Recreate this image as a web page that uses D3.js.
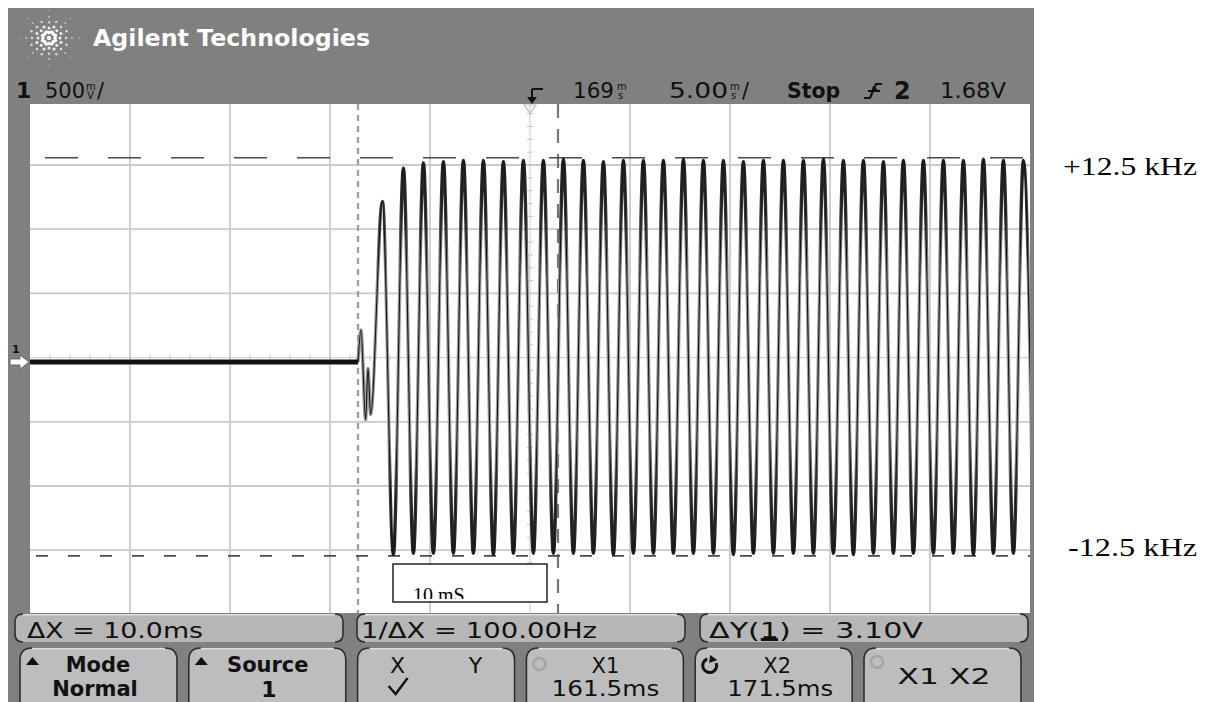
<!DOCTYPE html>
<html><head><meta charset="utf-8">
<script src="https://cdn.jsdelivr.net/npm/d3@7"></script>
<style>html,body{margin:0;padding:0;background:#fff;} svg{display:block;}</style>
</head><body>
<svg id="c" width="1212" height="702"></svg>
<script>
// ================= DATA =================
const timeDomainMs = [145.1, 195.1];      // visible time window (ms)
const voltDomain = [-1.966, 2.034];       // visible voltage window (V), 500 mV/div
const flatT = [145.1, 161.5];
const flatV = [0, 0];
const transientT = [161.5, 161.65, 161.88, 162.0, 162.13, 162.72];
const transientV = [0, 0.25, -0.45, -0.05, -0.41, 1.25];
const peakT = [163.77, 164.77, 165.77, 166.77, 167.77, 168.77, 169.77, 170.77, 171.77, 172.77,
               173.77, 174.77, 175.77, 176.77, 177.77, 178.77, 179.77, 180.77, 181.77, 182.77,
               183.77, 184.77, 185.77, 186.77, 187.77, 188.77, 189.77, 190.77, 191.77, 192.77,
               193.77, 194.77];
const peakV = [1.51, 1.55, 1.56, 1.57, 1.57, 1.56, 1.57, 1.57, 1.58, 1.57,
               1.56, 1.57, 1.57, 1.57, 1.58, 1.57, 1.57, 1.56, 1.57, 1.57,
               1.57, 1.58, 1.57, 1.57, 1.56, 1.57, 1.57, 1.57, 1.57, 1.58,
               1.57, 1.57];
const troughT = [163.27, 164.27, 165.27, 166.27, 167.27, 168.27, 169.27, 170.27, 171.27, 172.27,
                 173.27, 174.27, 175.27, 176.27, 177.27, 178.27, 179.27, 180.27, 181.27, 182.27,
                 183.27, 184.27, 185.27, 186.27, 187.27, 188.27, 189.27, 190.27, 191.27, 192.27,
                 193.27, 194.27, 195.27];
const troughV = [-1.50, -1.49, -1.49, -1.49, -1.49, -1.50, -1.49, -1.49, -1.49, -1.49,
                 -1.49, -1.50, -1.49, -1.49, -1.49, -1.49, -1.49, -1.50, -1.49, -1.49,
                 -1.49, -1.49, -1.49, -1.50, -1.49, -1.49, -1.49, -1.49, -1.49, -1.50,
                 -1.49, -1.49, -1.49];
const cursorXms = [161.5, 171.5];
const cursorYv = [-1.51, 1.59];
const rightLabels = ["+12.5 kHz", "-12.5 kHz"];
const rightLabelV = [1.55, -1.42];
const softkeyLabels = ["\u0394X = 10.0ms", "1/\u0394X = 100.00Hz", "\u0394Y(1) = 3.10V"];
const buttonTop = ["Mode", "Source", "X", "X1", "X2", "X1  X2"];
const buttonBottom = ["Normal", "1", "\u2713", "161.5ms", "171.5ms", ""];

// ================= SETUP =================
const svg = d3.select("#c");
svg.append("rect").attr("width", 1212).attr("height", 702).attr("fill", "#fff");
const defs = svg.append("defs");

const G = {x0: 30, x1: 1030, y0: 100.8, y1: 614.4, wy0: 104, wy1: 613};
const xT = d3.scaleLinear().domain(timeDomainMs).range([G.x0, G.x1]);
const yV = d3.scaleLinear().domain(voltDomain).range([G.y1, G.y0]);
const xDiv = d3.scaleLinear().domain([0, 10]).range([G.x0, G.x1]);
const yDiv = d3.scaleLinear().domain([0, 8]).range([G.y0, G.y1]);

// frame
svg.append("rect").attr("x", 8).attr("y", 8).attr("width", 1026).attr("height", 694).attr("fill", "#808080");

// logo (starburst of dots)
const logo = svg.append("g").attr("transform", "translate(49,38)");
d3.range(16).forEach(i => {
  const a = i * Math.PI / 8;
  const long = i % 2 === 0;
  const rs = long ? [6, 11, 17, 23, 30] : [7, 13, 19];
  rs.forEach((r, j) => {
    logo.append("circle").attr("cx", r * Math.cos(a)).attr("cy", r * Math.sin(a) * 0.92)
      .attr("r", Math.max(0.7, 1.8 - j * 0.3)).attr("fill", "#fff").attr("opacity", 1 - j * 0.13);
  });
});
logo.append("circle").attr("r", 2.2).attr("fill", "#fff");

svg.append("text").attr("x", 93).attr("y", 46).text("Agilent Technologies")
  .attr("font-family", "DejaVu Sans").attr("font-weight", "bold").attr("font-size", 23)
  .attr("fill", "#fff").attr("textLength", 277).attr("lengthAdjust", "spacingAndGlyphs");

// header row
const hdr = svg.append("g").attr("font-family", "DejaVu Sans").attr("fill", "#111");
function txt(g, x, y, s, size, opts = {}) {
  const t = g.append("text").attr("x", x).attr("y", y).text(s).attr("font-size", size);
  if (opts.bold) t.attr("font-weight", "bold");
  if (opts.len) t.attr("textLength", opts.len).attr("lengthAdjust", "spacingAndGlyphs");
  if (opts.anchor) t.attr("text-anchor", opts.anchor);
  if (opts.fill) t.attr("fill", opts.fill);
  if (opts.family) t.attr("font-family", opts.family);
  return t;
}
function stacked(g, x, yb, top, bot) {
  txt(g, x, yb - 8, top, 10);
  txt(g, x + 1, yb + 1, bot, 10);
}
txt(hdr, 16, 98, "1", 22, {bold: true});
txt(hdr, 45, 98, "500", 21, {len: 40});
stacked(hdr, 86, 98, "m", "V");
txt(hdr, 97, 98, "/", 21);
txt(hdr, 573, 98, "169", 21, {len: 41});
stacked(hdr, 617, 98, "m", "s");
txt(hdr, 669, 98, "5.00", 21, {len: 59});
stacked(hdr, 730, 98, "m", "s");
txt(hdr, 742, 98, "/", 21);
txt(hdr, 787, 98, "Stop", 21, {bold: true, len: 53});
// trigger edge symbol
hdr.append("path").attr("d", "M864,98 H870 L876,84 H882 M868,91 H880")
  .attr("fill", "none").attr("stroke", "#111").attr("stroke-width", 2.2);
hdr.append("path").attr("d", "M873,86 L878,90 L871,92 Z").attr("fill", "#111");
txt(hdr, 894, 99, "2", 24, {bold: true});
txt(hdr, 940, 98, "1.68V", 21, {len: 66});
// trigger position marker
hdr.append("path").attr("d", "M532,89 H543 M532,89 V99").attr("stroke", "#111").attr("stroke-width", 2).attr("fill", "none");
hdr.append("path").attr("d", "M527,97 L537,97 L532,104 Z").attr("fill", "#111");

// graticule background
svg.append("rect").attr("x", G.x0).attr("y", G.wy0).attr("width", G.x1 - G.x0).attr("height", G.wy1 - G.wy0).attr("fill", "#fff");
defs.append("clipPath").attr("id", "gclip").append("rect")
  .attr("x", G.x0).attr("y", G.wy0).attr("width", G.x1 - G.x0).attr("height", G.wy1 - G.wy0);
const plot = svg.append("g").attr("clip-path", "url(#gclip)");

// grid
plot.selectAll(".vg").data(d3.range(1, 10)).join("line")
  .attr("x1", d => xDiv(d)).attr("x2", d => xDiv(d)).attr("y1", G.wy0).attr("y2", G.wy1)
  .attr("stroke", "#cacaca").attr("stroke-width", d => d === 5 ? 1 : 1.8);
plot.selectAll(".hg").data(d3.range(1, 8)).join("line")
  .attr("y1", d => yDiv(d)).attr("y2", d => yDiv(d)).attr("x1", G.x0).attr("x2", G.x1)
  .attr("stroke", "#cacaca").attr("stroke-width", d => d === 4 ? 1 : 1.8);
// center axes minor ticks
plot.selectAll(".ht").data(d3.range(1, 50)).join("line")
  .attr("x1", d => xDiv(d / 5)).attr("x2", d => xDiv(d / 5))
  .attr("y1", yDiv(4) - 3).attr("y2", yDiv(4) + 3).attr("stroke", "#c4c4c4").attr("stroke-width", 1);
plot.selectAll(".vt").data(d3.range(1, 40)).join("line")
  .attr("y1", d => yDiv(d / 5)).attr("y2", d => yDiv(d / 5))
  .attr("x1", xDiv(5) - 3).attr("x2", xDiv(5) + 3).attr("stroke", "#c4c4c4").attr("stroke-width", 1);
// small trigger-point triangle
plot.append("path").attr("d", `M${xDiv(5) - 6},${G.wy0 + 1} L${xDiv(5) + 6},${G.wy0 + 1} L${xDiv(5)},${G.wy0 + 9} Z`)
  .attr("fill", "none").attr("stroke", "#bdbdbd").attr("stroke-width", 1.2);

// cursors
plot.append("line").attr("x1", xT(cursorXms[0])).attr("x2", xT(cursorXms[0])).attr("y1", G.wy0).attr("y2", G.wy1)
  .attr("stroke", "#9a9a9a").attr("stroke-width", 2.2).attr("stroke-dasharray", "6,5");
plot.append("line").attr("x1", xT(cursorXms[1])).attr("x2", xT(cursorXms[1])).attr("y1", G.wy0).attr("y2", G.wy1)
  .attr("stroke", "#777").attr("stroke-width", 2.2).attr("stroke-dasharray", "14,11");
plot.append("line").attr("y1", yV(cursorYv[1])).attr("y2", yV(cursorYv[1])).attr("x1", G.x0).attr("x2", G.x1)
  .attr("stroke", "#4a4a4a").attr("stroke-width", 1.6).attr("stroke-dasharray", "33,30").attr("stroke-dashoffset", -15);
plot.append("line").attr("y1", yV(cursorYv[0])).attr("y2", yV(cursorYv[0])).attr("x1", G.x0).attr("x2", G.x1)
  .attr("stroke", "#4a4a4a").attr("stroke-width", 1.6).attr("stroke-dasharray", "12,20").attr("stroke-dashoffset", -6);

// waveform
const flat = flatT.map((t, i) => [t, flatV[i]]);
const wave = transientT.map((t, i) => [t, transientV[i]])
  .concat(peakT.map((t, i) => [t, peakV[i]]))
  .concat(troughT.map((t, i) => [t, troughV[i]]))
  .sort((a, b) => a[0] - b[0]);
const line = d3.line().x(d => xT(d[0])).y(d => yV(d[1])).curve(d3.curveMonotoneX);
const grad = defs.append("linearGradient").attr("id", "wg").attr("gradientUnits", "userSpaceOnUse")
  .attr("x1", 0).attr("x2", 0).attr("y1", yV(1.57)).attr("y2", yV(-1.49));
[[0, "#1c1c1c"], [0.15, "#3a3a3a"], [0.3, "#9c9c9c"], [0.7, "#9c9c9c"], [0.85, "#3a3a3a"], [1, "#1c1c1c"]]
  .forEach(s => grad.append("stop").attr("offset", s[0]).attr("stop-color", s[1]));
plot.append("path").attr("d", line(wave)).attr("fill", "none").attr("stroke", "url(#wg)").attr("stroke-width", 3.4);
plot.append("path").attr("d", line(wave)).attr("fill", "none").attr("stroke", "#161616").attr("stroke-width", 1.1);
plot.append("path").attr("d", d3.line().x(d => xT(d[0])).y(d => yV(d[1])).curve(d3.curveLinear)(flat))
  .attr("fill", "none").attr("stroke", "#111").attr("stroke-width", 5);

// 10 mS annotation box
defs.append("clipPath").attr("id", "bclip").append("rect").attr("x", 393).attr("y", 564).attr("width", 154).attr("height", 35);
svg.append("rect").attr("x", 393).attr("y", 564).attr("width", 154).attr("height", 38)
  .attr("fill", "#fff").attr("stroke", "#000").attr("stroke-width", 1.3);
svg.append("text").attr("x", 413).attr("y", 602).text("10 mS").attr("clip-path", "url(#bclip)")
  .attr("font-family", "Liberation Serif").attr("font-size", 20).attr("fill", "#000");

// ground marker
svg.append("text").attr("x", 12).attr("y", 353).text("1").attr("font-family", "DejaVu Sans")
  .attr("font-size", 11).attr("font-weight", "bold").attr("fill", "#111");
svg.append("path").attr("d", "M10,359 H20 V355 L29,362 L20,369 V365 H10 Z")
  .attr("fill", "#fff").attr("stroke", "#555").attr("stroke-width", 0.8);

// right labels
svg.selectAll(".rl").data(rightLabels).join("text")
  .attr("x", 1197).attr("y", (d, i) => yV(rightLabelV[i]) + 12).attr("text-anchor", "end")
  .text(d => d).attr("font-family", "Liberation Serif").attr("font-size", 26).attr("fill", "#000")
  .attr("textLength", (d, i) => i === 0 ? 134 : 129).attr("lengthAdjust", "spacingAndGlyphs");

// ================= BOTTOM PANEL =================
function keyShape(g, x, y, w, h, r, fill) {
  g.append("rect").attr("x", x).attr("y", y).attr("width", w).attr("height", h).attr("rx", r).attr("fill", fill);
  g.append("path").attr("d", `M${x + r},${y + 0.8} H${x + w - r}`).attr("stroke", "#dedede").attr("stroke-width", 1.6);
  g.append("path").attr("d", `M${x + r},${y} Q${x},${y} ${x},${y + r} V${y + h - r} Q${x},${y + h} ${x + r},${y + h}`)
    .attr("fill", "none").attr("stroke", "#2e2e2e").attr("stroke-width", 1.6);
  g.append("path").attr("d", `M${x + w - r},${y} Q${x + w},${y} ${x + w},${y + r} V${y + h - r} Q${x + w},${y + h} ${x + w - r},${y + h}`)
    .attr("fill", "none").attr("stroke", "#2e2e2e").attr("stroke-width", 1.6);
}
const panel = svg.append("g").attr("font-family", "DejaVu Sans").attr("fill", "#111");
const skX = [15, 357, 700], skLen = [176, 236, 214];
let dyText = null;
softkeyLabels.forEach((s, i) => {
  keyShape(panel, skX[i], 614, 328, 28, 8, "#b6b6b6");
  const t = txt(panel, skX[i] + (i === 0 ? 12 : i === 1 ? 4 : 9), 638, s, 22, {len: skLen[i]});
  if (i === 2) dyText = t;
});
// underline under channel number in ΔY(1)
const ext = dyText.node().getExtentOfChar(3);
panel.append("rect").attr("x", ext.x + 1).attr("y", 638).attr("width", Math.max(8, ext.width - 2)).attr("height", 3).attr("fill", "#111");

const bx = d3.range(6).map(i => 20 + i * 168.8);
bx.forEach((x, i) => keyShape(panel, x, 648, 157, 66, 12, "#bdbdbd"));
// button 1, 2: triangle + bold labels
[0, 1].forEach(i => {
  panel.append("path").attr("d", `M${bx[i] + 6},${665} L${bx[i] + 19},${665} L${bx[i] + 12.5},${657} Z`).attr("fill", "#111");
});
txt(panel, bx[0] + 78, 672, buttonTop[0], 21, {bold: true, anchor: "middle"});
txt(panel, bx[0] + 75, 696, buttonBottom[0], 21, {bold: true, anchor: "middle"});
txt(panel, bx[1] + 79, 672, buttonTop[1], 21, {bold: true, anchor: "middle"});
txt(panel, bx[1] + 80, 697, buttonBottom[1], 22, {bold: true, anchor: "middle"});
// button 3: X  Y  ✓
txt(panel, bx[2] + 40, 673, buttonTop[2], 22, {anchor: "middle"});
txt(panel, bx[2] + 118, 673, "Y", 22, {anchor: "middle"});
panel.append("path").attr("d", `M${bx[2] + 31},${686} L${bx[2] + 38},${694} L${bx[2] + 50},${678}`)
  .attr("fill", "none").attr("stroke", "#111").attr("stroke-width", 2.4);
// button 4: X1 / 161.5ms with faint circle
panel.append("circle").attr("cx", bx[3] + 13).attr("cy", 664).attr("r", 6).attr("fill", "none").attr("stroke", "#a5a5a5").attr("stroke-width", 2.5);
txt(panel, bx[3] + 79, 673, buttonTop[3], 21, {anchor: "middle"});
txt(panel, bx[3] + 79, 696, buttonBottom[3], 21, {anchor: "middle", len: 108});
// button 5: ↻ X2 / 171.5ms
panel.append("path").attr("d", `M${bx[4] + 12},${659} A7,7 0 1,0 ${bx[4] + 21},${663}`)
  .attr("fill", "none").attr("stroke", "#111").attr("stroke-width", 3);
panel.append("path").attr("d", `M${bx[4] + 15},${655} L${bx[4] + 22},${660} L${bx[4] + 14},${663} Z`).attr("fill", "#111");
txt(panel, bx[4] + 82, 673, buttonTop[4], 21, {anchor: "middle"});
txt(panel, bx[4] + 85, 696, buttonBottom[4], 21, {anchor: "middle", len: 106});
// button 6: X1 X2
panel.append("circle").attr("cx", bx[5] + 13).attr("cy", 662).attr("r", 6).attr("fill", "none").attr("stroke", "#a5a5a5").attr("stroke-width", 2.5);
txt(panel, bx[5] + 80, 684, buttonTop[5], 22, {anchor: "middle", len: 93});
</script>
</body></html>
